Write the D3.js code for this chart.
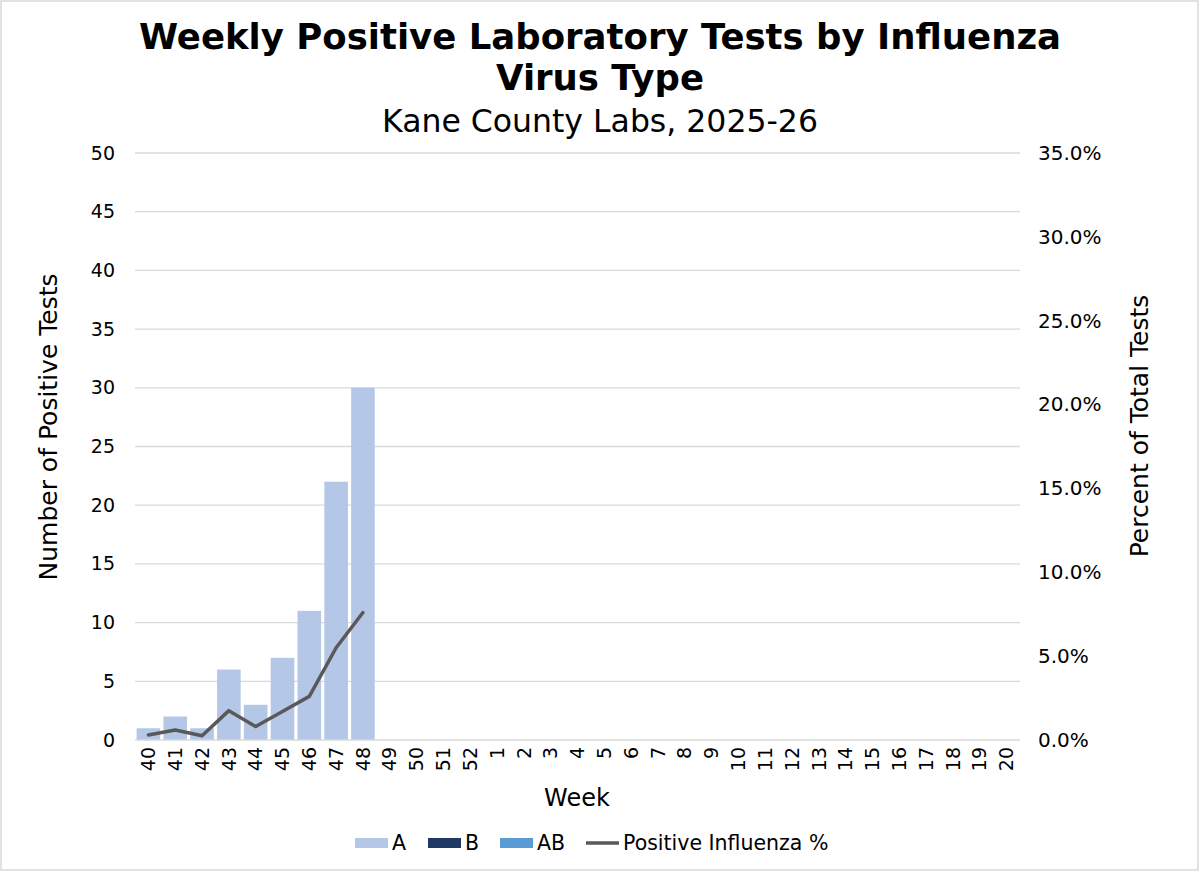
<!DOCTYPE html>
<html>
<head>
<meta charset="utf-8">
<script src="https://cdn.jsdelivr.net/npm/d3@7"></script>
<style>
  body { margin: 0; background: #fff; }
  text { font-family: "DejaVu Sans", Verdana, sans-serif; fill: #000; }
</style>
</head>
<body>
<svg id="chart" width="1200" height="872"></svg>
<script>
// weeks of the 2025-26 season
let weeks = ["40","41","42","43","44","45","46","47","48","49","50","51","52",
  "1","2","3","4","5","6","7","8","9","10","11","12","13","14","15","16","17","18","19","20"];
let typeA  = [1, 2, 1, 6, 3, 7, 11, 22, 30];
let typeB  = [0, 0, 0, 0, 0, 0, 0, 0, 0];
let typeAB = [0, 0, 0, 0, 0, 0, 0, 0, 0];
let pctPositive = [0.3, 0.6, 0.25, 1.75, 0.8, 1.7, 2.6, 5.5, 7.6];
let countTicks = [0, 5, 10, 15, 20, 25, 30, 35, 40, 45, 50];
let pctTicks = [0, 5, 10, 15, 20, 25, 30, 35];

let svg = d3.select("#chart");
let plotLeft = 135, plotRight = 1020, plotTop = 153, plotBottom = 740;

svg.append("rect")
  .attr("x", 1).attr("y", 1).attr("width", 1197).attr("height", 869)
  .style("fill", "#fff").style("stroke", "#d9d9d9").style("stroke-width", 1.5);

let xScale = d3.scaleBand().domain(weeks).range([plotLeft, plotRight]).paddingInner(0.12).paddingOuter(0.06);
let yScale = d3.scaleLinear().domain([0, 50]).range([plotBottom, plotTop]);
let y2Scale = d3.scaleLinear().domain([0, 35]).range([plotBottom, plotTop]);

// gridlines
svg.append("g")
  .selectAll("line")
  .data(countTicks.slice(1))
  .join("line")
  .attr("x1", plotLeft).attr("x2", plotRight)
  .attr("y1", d => yScale(d)).attr("y2", d => yScale(d))
  .style("stroke", "#d9d9d9").style("stroke-width", 1.3);

// stacked bars
let rows = typeA.map((a, i) => ({ week: weeks[i], A: a, B: typeB[i], AB: typeAB[i] }));
let stack = d3.stack().keys(["A", "B", "AB"])(rows);
let colors = { A: "#b4c7e7", B: "#203864", AB: "#5b9bd5" };

svg.append("g")
  .selectAll("g")
  .data(stack)
  .join("g")
  .style("fill", d => colors[d.key])
  .selectAll("rect")
  .data(d => d.filter(p => p[1] > p[0]))
  .join("rect")
  .attr("x", d => xScale(d.data.week))
  .attr("width", xScale.bandwidth())
  .attr("y", d => yScale(d[1]))
  .attr("height", d => yScale(d[0]) - yScale(d[1]));

// baseline
svg.append("line")
  .attr("x1", plotLeft).attr("x2", plotRight).attr("y1", plotBottom).attr("y2", plotBottom)
  .style("stroke", "#d9d9d9").style("stroke-width", 1.5);

// percent line
let line = d3.line()
  .x((d, i) => xScale(weeks[i]) + xScale.bandwidth() / 2)
  .y(d => y2Scale(d));

svg.append("path")
  .datum(pctPositive)
  .attr("d", line)
  .style("fill", "none")
  .style("stroke", "#595959")
  .style("stroke-width", 3.5)
  .style("stroke-linejoin", "round")
  .style("stroke-linecap", "round");

// axes
let leftAxis = d3.axisLeft(yScale).tickValues(countTicks).tickSize(0).tickPadding(20);
svg.append("g")
  .attr("transform", "translate(" + plotLeft + ",0)")
  .call(leftAxis)
  .call(g => g.select(".domain").remove())
  .selectAll("text").style("font-size", "19px").style("font-family", "DejaVu Sans");

let rightAxis = d3.axisRight(y2Scale).tickValues(pctTicks).tickSize(0).tickPadding(18)
  .tickFormat(d => d.toFixed(1) + "%");
svg.append("g")
  .attr("transform", "translate(" + plotRight + ",0)")
  .call(rightAxis)
  .call(g => g.select(".domain").remove())
  .selectAll("text").style("font-size", "20px").style("font-family", "DejaVu Sans");

let bottomAxis = d3.axisBottom(xScale).tickSize(0);
svg.append("g")
  .attr("transform", "translate(0," + plotBottom + ")")
  .call(bottomAxis)
  .call(g => g.select(".domain").remove())
  .selectAll("text")
  .attr("transform", "rotate(-90)")
  .attr("x", -7).attr("y", 0).attr("dy", "0.35em")
  .style("text-anchor", "end")
  .style("font-size", "19px").style("font-family", "DejaVu Sans");

// titles
svg.append("text").attr("x", 600).attr("y", 49).attr("text-anchor", "middle")
  .style("font-size", "35.5px").style("font-weight", "bold")
  .text("Weekly Positive Laboratory Tests by Influenza");
svg.append("text").attr("x", 600).attr("y", 90).attr("text-anchor", "middle")
  .style("font-size", "35.5px").style("font-weight", "bold")
  .text("Virus Type");
svg.append("text").attr("x", 600).attr("y", 132).attr("text-anchor", "middle")
  .style("font-size", "31.5px")
  .text("Kane County Labs, 2025-26");

svg.append("text").attr("x", 577).attr("y", 806).attr("text-anchor", "middle")
  .style("font-size", "24px").text("Week");
svg.append("text").attr("transform", "translate(57,427) rotate(-90)").attr("text-anchor", "middle")
  .style("font-size", "25px").text("Number of Positive Tests");
svg.append("text").attr("transform", "translate(1148,426) rotate(-90)").attr("text-anchor", "middle")
  .style("font-size", "25px").text("Percent of Total Tests");

// legend
let legendItems = [
  { label: "A", color: colors.A, type: "box", x: 355 },
  { label: "B", color: colors.B, type: "box", x: 428 },
  { label: "AB", color: colors.AB, type: "box", x: 500 },
  { label: "Positive Influenza %", color: "#595959", type: "line", x: 586 }
];
let legend = svg.append("g").selectAll("g").data(legendItems).join("g")
  .attr("transform", d => "translate(" + d.x + ",843)");
legend.filter(d => d.type === "box").append("rect")
  .attr("x", 0).attr("y", -5).attr("width", 33).attr("height", 10)
  .style("fill", d => d.color);
legend.filter(d => d.type === "line").append("line")
  .attr("x1", 0).attr("x2", 33).attr("y1", 0).attr("y2", 0)
  .style("stroke", d => d.color).style("stroke-width", 3.5);
legend.append("text").attr("x", 37).attr("y", 0).attr("dy", "0.35em")
  .style("font-size", "20.5px").text(d => d.label);
</script>
</body>
</html>
